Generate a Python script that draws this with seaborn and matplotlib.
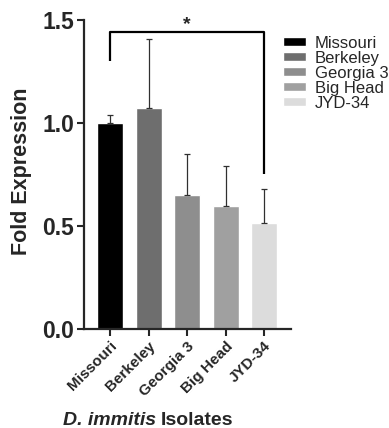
import matplotlib
matplotlib.use("Agg")
import matplotlib.pyplot as plt
import seaborn as sns
import pandas as pd

# donnees
isolates = ["Missouri", "Berkeley", "Georgia 3", "Big Head", "JYD-34"]
fold = [1.00, 1.075, 0.65, 0.60, 0.515]
err_up = [0.04, 0.335, 0.20, 0.19, 0.165]
colors = ["#000000", "#6e6e6e", "#8e8e8e", "#a0a0a0", "#dcdcdc"]

df = pd.DataFrame({"isolate": isolates, "fold": fold})

sns.set_style("ticks")
plt.rcParams['font.family'] = ['Liberation Sans', 'DejaVu Sans']

fig = plt.figure(figsize=(3.89, 4.28), dpi=100)
ax = fig.add_axes([0.216, 0.231, 0.532, 0.722])

sns.barplot(data=df, x="isolate", y="fold", hue="isolate", palette=colors,
            dodge=False, width=0.68, errorbar=None, legend=True, ax=ax)

# barres d'erreur (seulement vers le haut)
ax.errorbar(range(len(isolates)), fold, yerr=[[0] * len(fold), err_up],
            fmt="none", ecolor="#303030", elinewidth=0.9, capsize=2.5,
            capthick=0.9, zorder=1)

# crochet de significativite
y_br = 1.44
ax.plot([0, 0, 4, 4], [1.30, y_br, y_br, 0.755], color="black", lw=1.6,
        solid_capstyle="butt", clip_on=False)
ax.text(2, 1.437, "*", ha="center", va="bottom", fontsize=14,
        fontweight="bold")

ax.set_ylim(0, 1.5)
ax.set_xlim(-0.68, 4.7)
ax.set_yticks([0.0, 0.5, 1.0, 1.5])
ax.set_yticklabels(["0.0", "0.5", "1.0", "1.5"], fontsize=16.5,
                   fontweight="bold")
ax.set_xticks(range(len(isolates)))
ax.set_xticklabels(isolates, rotation=45, ha="right", rotation_mode="anchor",
                   fontsize=11, fontweight="bold")
ax.tick_params(axis="both", width=1.5, length=5, direction="out", pad=2)

ax.set_ylabel("Fold Expression", fontsize=15.5, fontweight="bold")
ax.yaxis.set_label_coords(-0.251, 0.51)
ax.set_xlabel("")

for s in ["left", "bottom"]:
    ax.spines[s].set_linewidth(1.6)
sns.despine(ax=ax)

leg = ax.legend(loc="upper left", bbox_to_anchor=(0.961, 0.95), frameon=False,
                fontsize=12, labelspacing=0.0, handlelength=1.38,
                handleheight=0.5, handletextpad=0.55, borderaxespad=0,
                borderpad=0)

# titre de l'axe x : partie en italique + partie normale
t1 = fig.text(63 / 389, 0.006, "D. immitis", fontsize=14, fontweight="bold",
              fontstyle="italic", ha="left", va="baseline")
fig.canvas.draw()
bb = t1.get_window_extent(renderer=fig.canvas.get_renderer())
fig.text(bb.x1 / fig.bbox.width + 0.012, 0.006, "Isolates", fontsize=14,
         fontweight="bold", ha="left", va="baseline")

plt.savefig("out.png", dpi=100)
